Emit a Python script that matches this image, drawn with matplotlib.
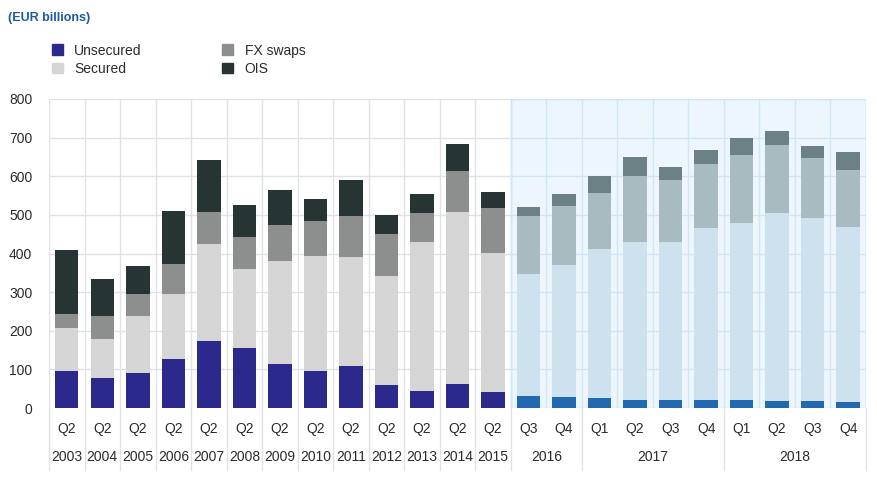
import matplotlib
matplotlib.use("Agg")
import matplotlib.pyplot as plt
import matplotlib.patches as mpatches
import matplotlib.transforms as mtransforms
import numpy as np

plt.rcParams['font.family'] = ['Liberation Sans', 'DejaVu Sans']

# Datos (EUR miles de millones)
quarters = ["Q2"] * 13 + ["Q3", "Q4", "Q1", "Q2", "Q3", "Q4", "Q1", "Q2", "Q3", "Q4"]
years = ["2003", "2004", "2005", "2006", "2007", "2008", "2009", "2010", "2011",
         "2012", "2013", "2014", "2015", "2016", "2016", "2017", "2017", "2017",
         "2017", "2018", "2018", "2018", "2018"]
unsecured = [95, 79, 91, 127, 173, 155, 114, 97, 108, 60, 43, 63, 41,
             30, 28, 26, 22, 22, 20, 20, 17, 17, 16]
secured = [112, 100, 148, 169, 252, 206, 267, 296, 283, 283, 386, 445, 360,
           317, 343, 386, 409, 408, 446, 459, 488, 475, 452]
fx_swaps = [37, 58, 57, 77, 82, 83, 92, 90, 105, 107, 77, 106, 118,
            149, 153, 144, 169, 159, 166, 175, 176, 155, 149]
ois = [164, 98, 71, 138, 135, 81, 92, 58, 95, 50, 48, 69, 39,
       24, 31, 44, 51, 35, 37, 45, 37, 32, 45]
n_hist = 13

labels = ["Unsecured", "Secured", "FX swaps", "OIS"]
colores_hist = ["#2b2a8c", "#d5d5d5", "#8d8f8f", "#263434"]
colores_proj = ["#2369b0", "#cde2ee", "#a8bbc1", "#6c8186"]

fig = plt.figure(figsize=(8.78, 4.78), dpi=100)
ax = fig.add_axes([0.0558, 0.1464, 0.9305, 0.6465])

x = np.arange(len(quarters))
ax.set_xlim(-0.5, len(quarters) - 0.5)
ax.set_ylim(0, 800)

# Zona sombreada (proyeccion)
ax.add_patch(mpatches.Rectangle((n_hist - 0.5, 0), len(quarters) - n_hist, 800,
                                facecolor="#edf6fd", edgecolor="#c9e3f5",
                                linewidth=1, zorder=0))

# Rejilla
for yv in range(100, 801, 100):
    ax.plot([-0.5, n_hist - 0.5], [yv, yv], color="#dfe3e6", lw=1, zorder=1)
    ax.plot([n_hist - 0.5, len(quarters) - 0.5], [yv, yv], color="#cfe6f5", lw=1, zorder=1)
for xv in np.arange(-0.5, len(quarters), 1.0):
    c = "#dfe3e6" if xv < n_hist - 0.5 else "#cfe6f5"
    ax.plot([xv, xv], [0, 800], color=c, lw=1, zorder=1)

# Barras apiladas
series = [unsecured, secured, fx_swaps, ois]
bottom = np.zeros(len(quarters))
for serie, ch, cp in zip(series, colores_hist, colores_proj):
    vals = np.array(serie, dtype=float)
    cols = [ch] * n_hist + [cp] * (len(quarters) - n_hist)
    ax.bar(x, vals, width=0.66, bottom=bottom, color=cols, zorder=2)
    bottom += vals

for s in ax.spines.values():
    s.set_visible(False)

ax.set_yticks(range(0, 801, 100))
ax.tick_params(axis="y", length=0, pad=12, labelsize=10, labelcolor="#2b2b2b")
ax.set_xticks(x, quarters)
ax.tick_params(axis="x", length=0, pad=10, labelsize=10, labelcolor="#2b2b2b")

# Etiquetas de año y separadores
trans = mtransforms.blended_transform_factory(ax.transData, ax.transAxes)
grupos = []
for i, y in enumerate(years):
    if grupos and grupos[-1][0] == y:
        grupos[-1][2] = i
    else:
        grupos.append([y, i, i])
for y, i0, i1 in grupos:
    ax.text((i0 + i1) / 2, -0.158, y, transform=trans, ha="center", va="center",
            fontsize=10, color="#2b2b2b")
    ax.plot([i0 - 0.5, i0 - 0.5], [0, -0.2], transform=trans, color="#dfe3e6",
            lw=1, clip_on=False)
ax.plot([len(quarters) - 0.5] * 2, [0, -0.2], transform=trans, color="#dfe3e6",
        lw=1, clip_on=False)

# Titulo y leyenda
fig.text(0.009, 0.963, "(EUR billions)", fontsize=9, color="#1d5aa3",
         fontweight="bold", ha="left", va="center")
handles = [mpatches.Patch(color=c, label=l) for c, l in zip(colores_hist, labels)]
fig.legend(handles=handles, ncol=2, frameon=False, loc="upper left",
           bbox_to_anchor=(0.045, 0.935), fontsize=10, handlelength=0.8,
           handleheight=0.8, columnspacing=5.8, labelspacing=0.3,
           handletextpad=0.8, labelcolor="#2b2b2b")

plt.savefig("out.png", dpi=100)
